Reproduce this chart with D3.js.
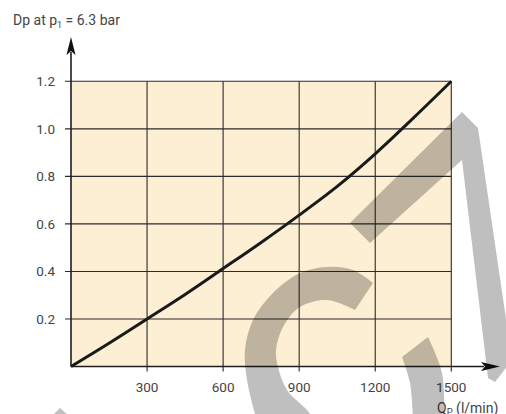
<!DOCTYPE html>
<html>
<head>
<meta charset="utf-8">
<script src="https://cdn.jsdelivr.net/npm/d3@7"></script>
<style>
  html, body { margin: 0; padding: 0; background: #fff; }
  svg { display: block; }
  text { font-family: Roboto, "DejaVu Sans", sans-serif; fill: #444; }
</style>
</head>
<body>
<svg id="chart" width="506" height="414"></svg>
<script>
// ---- data ----
const flow = [0, 150, 300, 450, 600, 750, 900, 1050, 1200, 1350, 1500];
const dp   = [0, 0.098, 0.2, 0.303, 0.412, 0.522, 0.637, 0.758, 0.895, 1.045, 1.2];
const xTicks = [300, 600, 900, 1200, 1500];
const yTicks = [0.2, 0.4, 0.6, 0.8, 1.0, 1.2];
const yTitle = "Dp at p";
const yTitleSub = "1";
const yTitleRest = " = 6.3 bar";
const xTitle = "Q";
const xTitleSub = "P";
const xTitleRest = " (l/min)";

const svg = d3.select("#chart");
const x = d3.scaleLinear().domain([0, 1500]).range([71, 451.3]);
const y = d3.scaleLinear().domain([0, 1.2]).range([366.5, 81.3]);

// plot background
svg.append("rect")
  .attr("x", x(0)).attr("y", y(1.2))
  .attr("width", x(1500) - x(0)).attr("height", y(0) - y(1.2))
  .attr("fill", "#fdefd3");

// grid
svg.append("g").selectAll("line").data(xTicks).join("line")
  .attr("x1", d => x(d)).attr("x2", d => x(d))
  .attr("y1", y(1.2)).attr("y2", y(0) + 5)
  .attr("stroke", "#2b2b2b").attr("stroke-width", 1.1);
svg.append("g").selectAll("line").data(yTicks).join("line")
  .attr("x1", x(0) - 6).attr("x2", x(1500))
  .attr("y1", d => y(d)).attr("y2", d => y(d))
  .attr("stroke", "#2b2b2b").attr("stroke-width", 1.1);

// tick labels
svg.append("g").selectAll("text").data(xTicks).join("text")
  .attr("x", d => x(d)).attr("y", 392)
  .attr("text-anchor", "middle").attr("font-size", 13.5)
  .text(d => d);
svg.append("g").selectAll("text").data(yTicks).join("text")
  .attr("x", 55).attr("y", d => y(d) + 4.8)
  .attr("text-anchor", "end").attr("font-size", 13.5)
  .text(d => d.toFixed(1));

// axes with arrows
svg.append("line")
  .attr("x1", x(0)).attr("x2", 484).attr("y1", y(0)).attr("y2", y(0))
  .attr("stroke", "#1e1e1e").attr("stroke-width", 1.6);
svg.append("path")
  .attr("d", d3.line()([[500, y(0)], [481, y(0) - 4.5], [485, y(0)], [481, y(0) + 4.5]]) + "Z")
  .attr("fill", "#111");
svg.append("line")
  .attr("x1", x(0)).attr("x2", x(0)).attr("y1", y(0)).attr("y2", 52)
  .attr("stroke", "#1e1e1e").attr("stroke-width", 1.6);
svg.append("path")
  .attr("d", d3.line()([[x(0), 37], [x(0) - 4.5, 55], [x(0), 51], [x(0) + 4.5, 55]]) + "Z")
  .attr("fill", "#111");

// curve
svg.append("path")
  .datum(flow.map((f, i) => [f, dp[i]]))
  .attr("d", d3.line().x(d => x(d[0])).y(d => y(d[1])).curve(d3.curveCatmullRom))
  .attr("fill", "none").attr("stroke", "#1a1a1a").attr("stroke-width", 3);

// titles
const yt = svg.append("text").attr("x", 13).attr("y", 25).attr("font-size", 14);
yt.append("tspan").text(yTitle);
yt.append("tspan").attr("dy", 3).attr("font-size", 9).text(yTitleSub);
yt.append("tspan").attr("dy", -3).text(yTitleRest);

const xt = svg.append("text").attr("x", 437).attr("y", 413).attr("font-size", 14);
xt.append("tspan").text(xTitle);
xt.append("tspan").attr("dy", 2).attr("font-size", 9.5).text(xTitleSub);
xt.append("tspan").attr("dy", -2).text(xTitleRest);

// watermark (decorative logo shapes, semi-transparent)
const wm = svg.append("g").attr("fill", "#000").attr("fill-opacity", 0.25);
const lin = d3.line();
const smooth = d3.line().curve(d3.curveCatmullRom);
// "C" arc
const outer = [[373,283],[353,270],[327,267],[300,273],[273,293],[253,320],[245,350],[247,380],[255,414],[258,424]];
const inner = [[312,424],[310,414],[287,390],[278,367],[276,350],[283,327],[300,307],[327,300],[355,310]];
wm.append("path").attr("d", smooth(outer) + "L" + smooth(inner).slice(1) + "Z");
// diagonal + vertical band
wm.append("path").attr("d", lin([[350,223],[462,112],[478,128],[512,360],[495,382],[488,378],[462,160],[370,243]]) + "Z");
// lower right piece
const pr = [[428,337],[442,373],[444,420]];
const pl = [[413,420],[410,383],[402,357]];
wm.append("path").attr("d", smooth(pr) + "L" + smooth(pl).slice(1) + "Z");
// small bottom-left tip
wm.append("path").attr("d", lin([[60,408],[52,416],[69,416]]) + "Z");
</script>
</body>
</html>
